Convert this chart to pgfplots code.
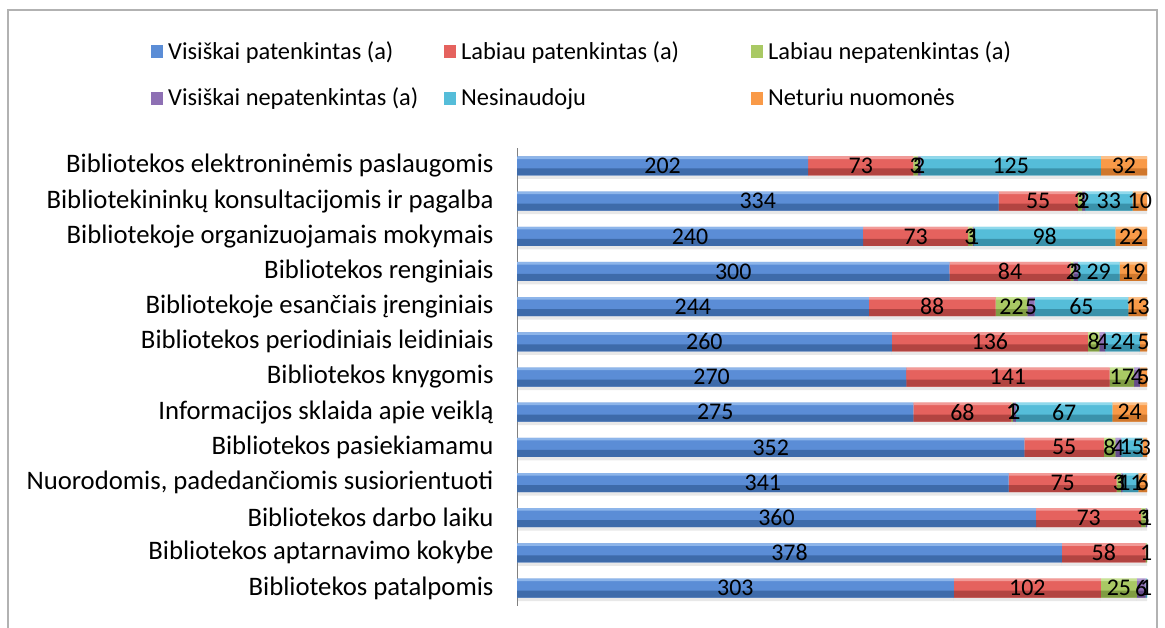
\documentclass[border=0pt]{standalone}
\usepackage{pgfplots}
\pgfplotsset{compat=1.18}
\usepackage{pgfplotstable}
\usepackage{fontspec}
\setmainfont{Carlito}

\definecolor{bluM}{HTML}{5B8DD6}\definecolor{bluD}{HTML}{3E6BAA}\definecolor{bluH}{HTML}{8DB5EA}
\definecolor{redM}{HTML}{E5625E}\definecolor{redD}{HTML}{B24441}\definecolor{redH}{HTML}{F29A97}
\definecolor{grnM}{HTML}{A9C964}\definecolor{grnD}{HTML}{7F9C42}\definecolor{grnH}{HTML}{C8E294}
\definecolor{purM}{HTML}{8E70B4}\definecolor{purD}{HTML}{654C8A}\definecolor{purH}{HTML}{B39BD3}
\definecolor{cynM}{HTML}{55BDD9}\definecolor{cynD}{HTML}{3A92AB}\definecolor{cynH}{HTML}{8FD9EC}
\definecolor{ornM}{HTML}{F99A48}\definecolor{ornD}{HTML}{D0772C}\definecolor{ornH}{HTML}{FCC088}

\pgfplotstableread{
idx a b c d e f
0 202 73 3 2 125 32
1 334 55 3 2 33 10
2 240 73 3 1 98 22
3 300 84 2 3 29 19
4 244 88 22 5 65 13
5 260 136 8 4 24 5
6 270 141 17 4 0 5
7 275 68 1 2 67 24
8 352 55 8 4 15 3
9 341 75 3 1 11 6
10 360 73 3 1 0 0
11 378 58 1 0 0 0
12 303 102 25 6 1 0
}\data

\pgfplotsset{base/.style={
  at={(517bp,22.4bp)}, anchor=south west,
  scale only axis, width=630bp, height=457.2bp,
  xbar stacked, bar width=19bp,
  xmin=0, xmax=437,
  ymin=-0.5, ymax=12.5, y dir=reverse,
  clip=false,
  axis x line=none,
  ytick={0,...,12},
  ytick style={draw=none},
}}

\begin{document}
\begin{tikzpicture}
\useasboundingbox (0bp,0bp) rectangle (1165bp,628bp);
\draw[gray!60, line width=1.2bp] (8bp,-5bp) -- (8bp,618bp) -- (1157bp,618bp) -- (1157bp,-5bp);
% shadow
\begin{axis}[base, hide axis, bar shift=-3.5bp]
\addplot[fill=black, fill opacity=0.09, draw=none] table[x=a, y=idx] {\data};
\addplot[fill=black, fill opacity=0.09, draw=none] table[x=b, y=idx] {\data};
\addplot[fill=black, fill opacity=0.09, draw=none] table[x=c, y=idx] {\data};
\addplot[fill=black, fill opacity=0.09, draw=none] table[x=d, y=idx] {\data};
\addplot[fill=black, fill opacity=0.09, draw=none] table[x=e, y=idx] {\data};
\addplot[fill=black, fill opacity=0.09, draw=none] table[x=f, y=idx] {\data};
\end{axis}
% main bars
\begin{axis}[base,
  axis y line*=left,
  y axis line style={gray, line width=1bp, -},
  yticklabels={
    Bibliotekos elektroninėmis paslaugomis,
    Bibliotekininkų konsultacijomis ir pagalba,
    Bibliotekoje organizuojamais mokymais,
    Bibliotekos renginiais,
    Bibliotekoje esančiais įrenginiais,
    Bibliotekos periodiniais leidiniais,
    Bibliotekos knygomis,
    Informacijos sklaida apie veiklą,
    Bibliotekos pasiekiamamu,
    {Nuorodomis, padedančiomis susiorientuoti},
    Bibliotekos darbo laiku,
    Bibliotekos aptarnavimo kokybe,
    Bibliotekos patalpomis},
  yticklabel style={font=\fontsize{26.8}{30}\selectfont, xshift=-20bp},
  legend columns=3,
  legend cell align=left,
  legend style={at={(-0.5857,1.238)}, anchor=north west, draw=none, fill=none,
    font=\fontsize{24.5}{28}\selectfont, nodes={inner sep=0bp},
    row sep=27bp,
    /tikz/every odd column/.append style={column sep=5bp}},
  legend image code/.code={\path[#1,draw=none] (0bp,-7bp) rectangle (12bp,6bp);},
]
\addplot[fill=bluM, draw=none] table[x=a, y=idx] {\data};
\addplot[fill=redM, draw=none] table[x=b, y=idx] {\data};
\addplot[fill=grnM, draw=none] table[x=c, y=idx] {\data};
\addplot[fill=purM, draw=none] table[x=d, y=idx] {\data};
\addplot[fill=cynM, draw=none] table[x=e, y=idx] {\data};
\addplot[fill=ornM, draw=none] table[x=f, y=idx] {\data};
\legend{\makebox[276bp][l]{Visiškai patenkintas (a)},
  \makebox[290bp][l]{Labiau patenkintas (a)},
  Labiau nepatenkintas (a),
  \makebox[276bp][l]{Visiškai nepatenkintas (a)},
  \makebox[290bp][l]{Nesinaudoju},
  Neturiu nuomonės}
\end{axis}
% darker lower part of bars
\begin{axis}[base, hide axis, bar width=7bp, bar shift=-6bp]
\addplot[fill=bluD, draw=none] table[x=a, y=idx] {\data};
\addplot[fill=redD, draw=none] table[x=b, y=idx] {\data};
\addplot[fill=grnD, draw=none] table[x=c, y=idx] {\data};
\addplot[fill=purD, draw=none] table[x=d, y=idx] {\data};
\addplot[fill=cynD, draw=none] table[x=e, y=idx] {\data};
\addplot[fill=ornD, draw=none] table[x=f, y=idx] {\data};
\end{axis}
% light top edge
\begin{axis}[base, hide axis, bar width=2.5bp, bar shift=8.2bp]
\addplot[fill=bluH, draw=none] table[x=a, y=idx] {\data};
\addplot[fill=redH, draw=none] table[x=b, y=idx] {\data};
\addplot[fill=grnH, draw=none] table[x=c, y=idx] {\data};
\addplot[fill=purH, draw=none] table[x=d, y=idx] {\data};
\addplot[fill=cynH, draw=none] table[x=e, y=idx] {\data};
\addplot[fill=ornH, draw=none] table[x=f, y=idx] {\data};
\end{axis}
% value labels
\begin{axis}[base, hide axis,
  /pgf/number format/assume math mode=true,
  point meta=rawx,
  nodes near coords,
  every node near coord/.append style={font=\fontsize{24}{28}\selectfont, text=black, anchor=center},
]
\addplot[draw=none, fill=none] table[x=a, y=idx] {\data};
\addplot[draw=none, fill=none] table[x=b, y=idx] {\data};
\addplot[draw=none, fill=none] table[x=c, y=idx] {\data};
\addplot[draw=none, fill=none] table[x=d, y=idx] {\data};
\addplot[draw=none, fill=none] table[x=e, y=idx] {\data};
\addplot[draw=none, fill=none] table[x=f, y=idx] {\data};
\end{axis}
\end{tikzpicture}
\end{document}
